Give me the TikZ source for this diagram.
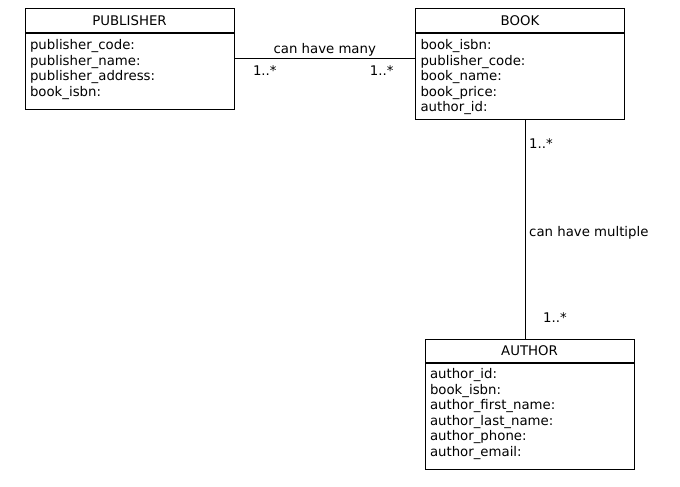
\documentclass[tikz,border=0pt]{standalone}
\usepackage{fontspec}
\setmainfont{DejaVu Sans}
\usetikzlibrary{positioning}

\newcommand{\umlfont}{\fontsize{13.3}{15.6}\selectfont}
\newcommand{\attrlist}[2]{\parbox[c][#1pt][t]{199pt}{\umlfont\raggedright\rule{0pt}{15.5pt}\ignorespaces#2}}

\begin{document}
\begin{tikzpicture}[
    x=1pt, y=-1pt,
    entity/.style={draw, line width=1pt, minimum width=209pt, minimum height=24pt, inner sep=0pt, font=\umlfont},
    attrs/.style={draw, line width=1pt, inner xsep=5pt, inner ysep=0pt},
    assoc/.style={draw, line width=1pt},
    lbl/.style={inner sep=2pt, font=\umlfont}
]
\useasboundingbox (0,0) rectangle (680,487);

% Define entities
\node[entity] (publisher) at (129.5,21) {PUBLISHER};
\node[attrs, below=0pt of publisher] (publisherattr) {\attrlist{75}{publisher\_code:\\publisher\_name:\\publisher\_address:\\book\_isbn:}};

\node[entity] (book) at (520,21) {BOOK};
\node[attrs, below=0pt of book] (bookattr) {\attrlist{85}{book\_isbn:\\publisher\_code:\\book\_name:\\book\_price:\\author\_id:}};

\node[entity, minimum height=23pt] (author) at (529.5,350.5) {AUTHOR};
\node[attrs, below=0pt of author] (authorattr) {\attrlist{106}{author\_id:\\book\_isbn:\\author\_first\_name:\\author\_last\_name:\\author\_phone:\\author\_email:}};

% Draw associations
\coordinate (pubbook) at (0,59);
\coordinate (bookauthor) at (525.7,0);

\draw[assoc] (publisherattr.east |- pubbook) --
    node[lbl, above] {can have many}
    node[lbl, at start, anchor=north west, xshift=16pt, yshift=-4pt] {1..*}
    node[lbl, at end, anchor=north east, xshift=-19pt, yshift=-4pt] {1..*}
    (bookattr.west |- pubbook);

\draw[assoc] (bookattr.south -| bookauthor) --
    node[lbl, anchor=west, xshift=1pt, yshift=-4pt] {can have multiple}
    node[lbl, at start, anchor=north west, xshift=1pt, yshift=-17pt] {1..*}
    node[lbl, at end, anchor=south west, xshift=15pt, yshift=14pt] {1..*}
    (author.north -| bookauthor);

\end{tikzpicture}
\end{document}
